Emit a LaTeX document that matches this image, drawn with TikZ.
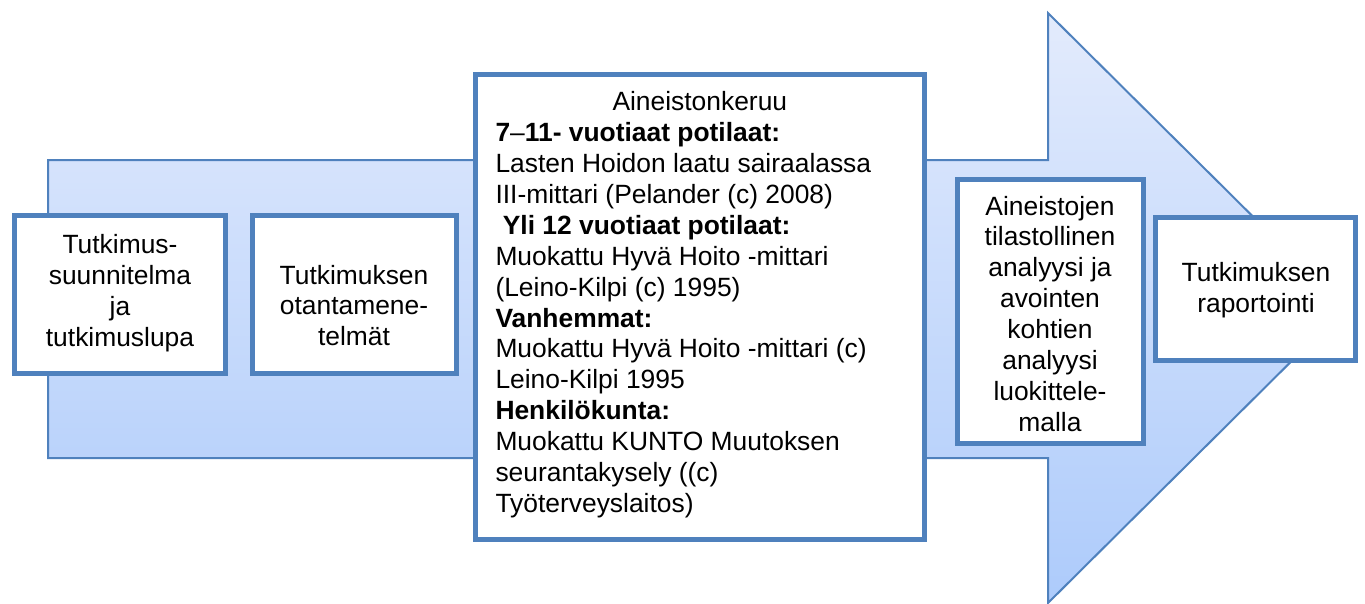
\documentclass[tikz,border=0pt]{standalone}
\usepackage{fontspec}
\setmainfont{Liberation Sans}
\definecolor{edge}{HTML}{4F81BD}
\definecolor{ftop}{RGB}{227,235,252}
\definecolor{fbot}{RGB}{173,203,251}
\definecolor{shadowgray}{RGB}{160,160,160}
\begin{document}
\begin{tikzpicture}[x=1pt,y=-1pt,
  box/.style={draw=edge, line width=5pt, fill=white, rectangle, inner sep=0pt, outer sep=0pt},
  txt/.style={font=\fontsize{26.4}{30.9}\selectfont, inner sep=0pt, outer sep=0pt, anchor=base},
  bigarrow/.style={draw=edge, line width=2pt, line join=miter, top color=ftop, bottom color=fbot}]
\useasboundingbox (0,0) rectangle (1365,603);
% arrow outline points
\coordinate (a1) at (48,160);
\coordinate (a2) at (1048,160);
\coordinate (a3) at (1048,13);
\coordinate (a4) at (1345,308);
\coordinate (a5) at (1048,603);
\coordinate (a6) at (1048,458);
\coordinate (a7) at (48,458);
% shadow
\fill[shadowgray, shift={(1.5,3)}] (a1) -- (a2) -- (a3) -- (a4) -- (a5) -- (a6) -- (a7) -- cycle;
% arrow
\path[bigarrow] (a1) -- (a2) -- (a3) -- (a4) -- (a5) -- (a6) -- (a7) -- cycle;
% boxes
\node[box, minimum width=211, minimum height=158] (b1) at (120,294.5) {};
\node[box, minimum width=204, minimum height=158] (b2) at (354.5,294.5) {};
\node[box, minimum width=449, minimum height=465] (b3) at (700,307) {};
\node[box, minimum width=186, minimum height=264] (b4) at (1050.5,311.5) {};
\node[box, minimum width=200, minimum height=143] (b5) at (1255.5,289) {};
% texts
\node[txt] (t1) at (120,253.3) {\begin{tabular}[t]{@{}c@{}}Tutkimus-\\suunnitelma\\ja\\tutkimuslupa\end{tabular}};
\node[txt] (t2) at (354,284) {\begin{tabular}[t]{@{}c@{}}Tutkimuksen\\otantamene-\\telmät\end{tabular}};
\node[txt, anchor=base west] (t3) at (495.5,110.7) {\begin{tabular}[t]{@{}l@{}}%
\hspace*{117pt}Aineistonkeruu\\
\textbf{7}–\textbf{11- vuotiaat potilaat:}\\
Lasten Hoidon laatu sairaalassa\\
III-mittari (Pelander (c) 2008)\\
\textbf{\ Yli 12 vuotiaat potilaat:}\\
Muokattu Hyvä Hoito -mittari\\
(Leino-Kilpi (c) 1995)\\
\textbf{Vanhemmat:}\\
Muokattu Hyvä Hoito -mittari (c)\\
Leino-Kilpi 1995\\
\textbf{Henkilökunta:}\\
Muokattu KUNTO Muutoksen\\
seurantakysely ((c)\\
Työterveyslaitos)\end{tabular}};
\node[txt] (t4) at (1050,215) {\begin{tabular}[t]{@{}c@{}}Aineistojen\\tilastollinen\\analyysi ja\\avointen\\kohtien\\analyysi\\luokittele-\\malla\end{tabular}};
\node[txt] (t5) at (1256,281.7) {\begin{tabular}[t]{@{}c@{}}Tutkimuksen\\raportointi\end{tabular}};
\end{tikzpicture}
\end{document}
